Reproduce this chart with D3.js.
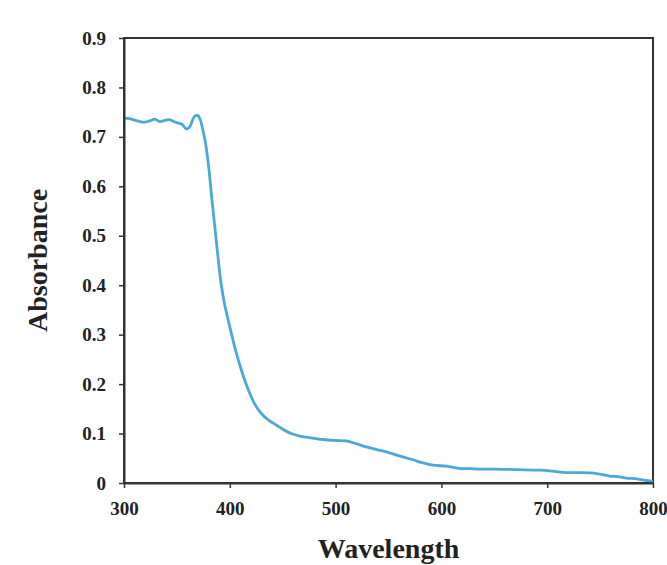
<!DOCTYPE html>
<html>
<head>
<meta charset="utf-8">
<script src="https://cdn.jsdelivr.net/npm/d3@7"></script>
<style>
  body { margin: 0; background: #fff; }
  text { font-family: "Liberation Serif", "Times New Roman", serif; font-weight: bold; }
</style>
</head>
<body>
<script>
// spectrum
const wavelength = [300, 305, 310, 315, 320, 325, 329, 334, 338, 343, 347, 351, 355, 359, 362, 365, 367, 370, 372, 375, 377, 380, 383, 386, 388, 390, 392, 395, 399, 402, 405, 409, 413, 418, 424, 430, 436, 441, 447, 453, 458, 466, 475, 488, 500, 510, 520, 529, 538, 548, 560, 573, 582, 592, 605, 618, 627, 636, 650, 671, 693, 705, 718, 730, 744, 752, 759, 767, 775, 783, 791, 800];
const absorbance = [0.738, 0.737, 0.734, 0.731, 0.730, 0.733, 0.736, 0.731, 0.733, 0.735, 0.731, 0.728, 0.725, 0.716, 0.720, 0.735, 0.742, 0.743, 0.735, 0.71, 0.688, 0.64, 0.575, 0.515, 0.474, 0.434, 0.400, 0.362, 0.325, 0.298, 0.272, 0.242, 0.215, 0.186, 0.158, 0.14, 0.128, 0.121, 0.113, 0.105, 0.10, 0.095, 0.092, 0.088, 0.086, 0.085, 0.079, 0.073, 0.068, 0.063, 0.055, 0.047, 0.041, 0.036, 0.034, 0.029, 0.029, 0.028, 0.028, 0.027, 0.026, 0.024, 0.021, 0.021, 0.020, 0.017, 0.014, 0.013, 0.010, 0.009, 0.006, 0.004];

const xTicks = [300, 400, 500, 600, 700, 800];
const yTicks = [0, 0.1, 0.2, 0.3, 0.4, 0.5, 0.6, 0.7, 0.8, 0.9];

const data = wavelength.map((w, i) => ({ w: w, a: absorbance[i] }));

const svg = d3
  .select("body")
  .append("svg")
  .attr("width", 667)
  .attr("height", 565);

const x = d3.scaleLinear().domain([300, 800]).range([124, 653]);
const y = d3.scaleLinear().domain([0, 0.9]).range([483, 38]);

// frame (top and right)
svg
  .append("rect")
  .attr("x", x(300))
  .attr("y", y(0.9))
  .attr("width", x(800) - x(300))
  .attr("height", y(0) - y(0.9))
  .attr("fill", "none")
  .attr("stroke", "#333")
  .attr("stroke-width", 2);

// curve
const line = d3
  .line()
  .x((d) => x(d.w))
  .y((d) => y(d.a))
  .curve(d3.curveCatmullRom);

svg
  .append("path")
  .datum(data)
  .attr("d", line)
  .attr("fill", "none")
  .attr("stroke", "#4ba8d8")
  .attr("stroke-width", 2.8)
  .attr("stroke-linejoin", "round");

// axes
const xAxis = svg
  .append("g")
  .attr("transform", `translate(0,${y(0)})`)
  .call(d3.axisBottom(x).tickValues(xTicks).tickSize(5).tickPadding(14).tickSizeOuter(0));

const yAxis = svg
  .append("g")
  .attr("transform", `translate(${x(300)},0)`)
  .call(
    d3
      .axisLeft(y)
      .tickValues(yTicks)
      .tickSize(5)
      .tickPadding(13)
      .tickSizeOuter(0)
      .tickFormat((d) => (d === 0 ? "0" : d3.format(".1f")(d)))
  );

[xAxis, yAxis].forEach((g) => {
  g.select(".domain").attr("stroke", "#333").attr("stroke-width", 2);
  g.selectAll(".tick line").attr("stroke", "#333").attr("stroke-width", 1.5);
  g.selectAll(".tick text")
    .attr("fill", "#222")
    .style("font-family", '"Liberation Serif", serif')
    .style("font-weight", "bold")
    .style("font-size", "19px");
});

// titles
svg
  .append("text")
  .attr("x", (x(300) + x(800)) / 2)
  .attr("y", 558)
  .attr("text-anchor", "middle")
  .attr("font-size", "28px")
  .attr("fill", "#222")
  .text("Wavelength");

svg
  .append("text")
  .attr("transform", `translate(47,${(y(0) + y(0.9)) / 2}) rotate(-90)`)
  .attr("text-anchor", "middle")
  .attr("font-size", "28px")
  .attr("fill", "#222")
  .text("Absorbance");
</script>
</body>
</html>
